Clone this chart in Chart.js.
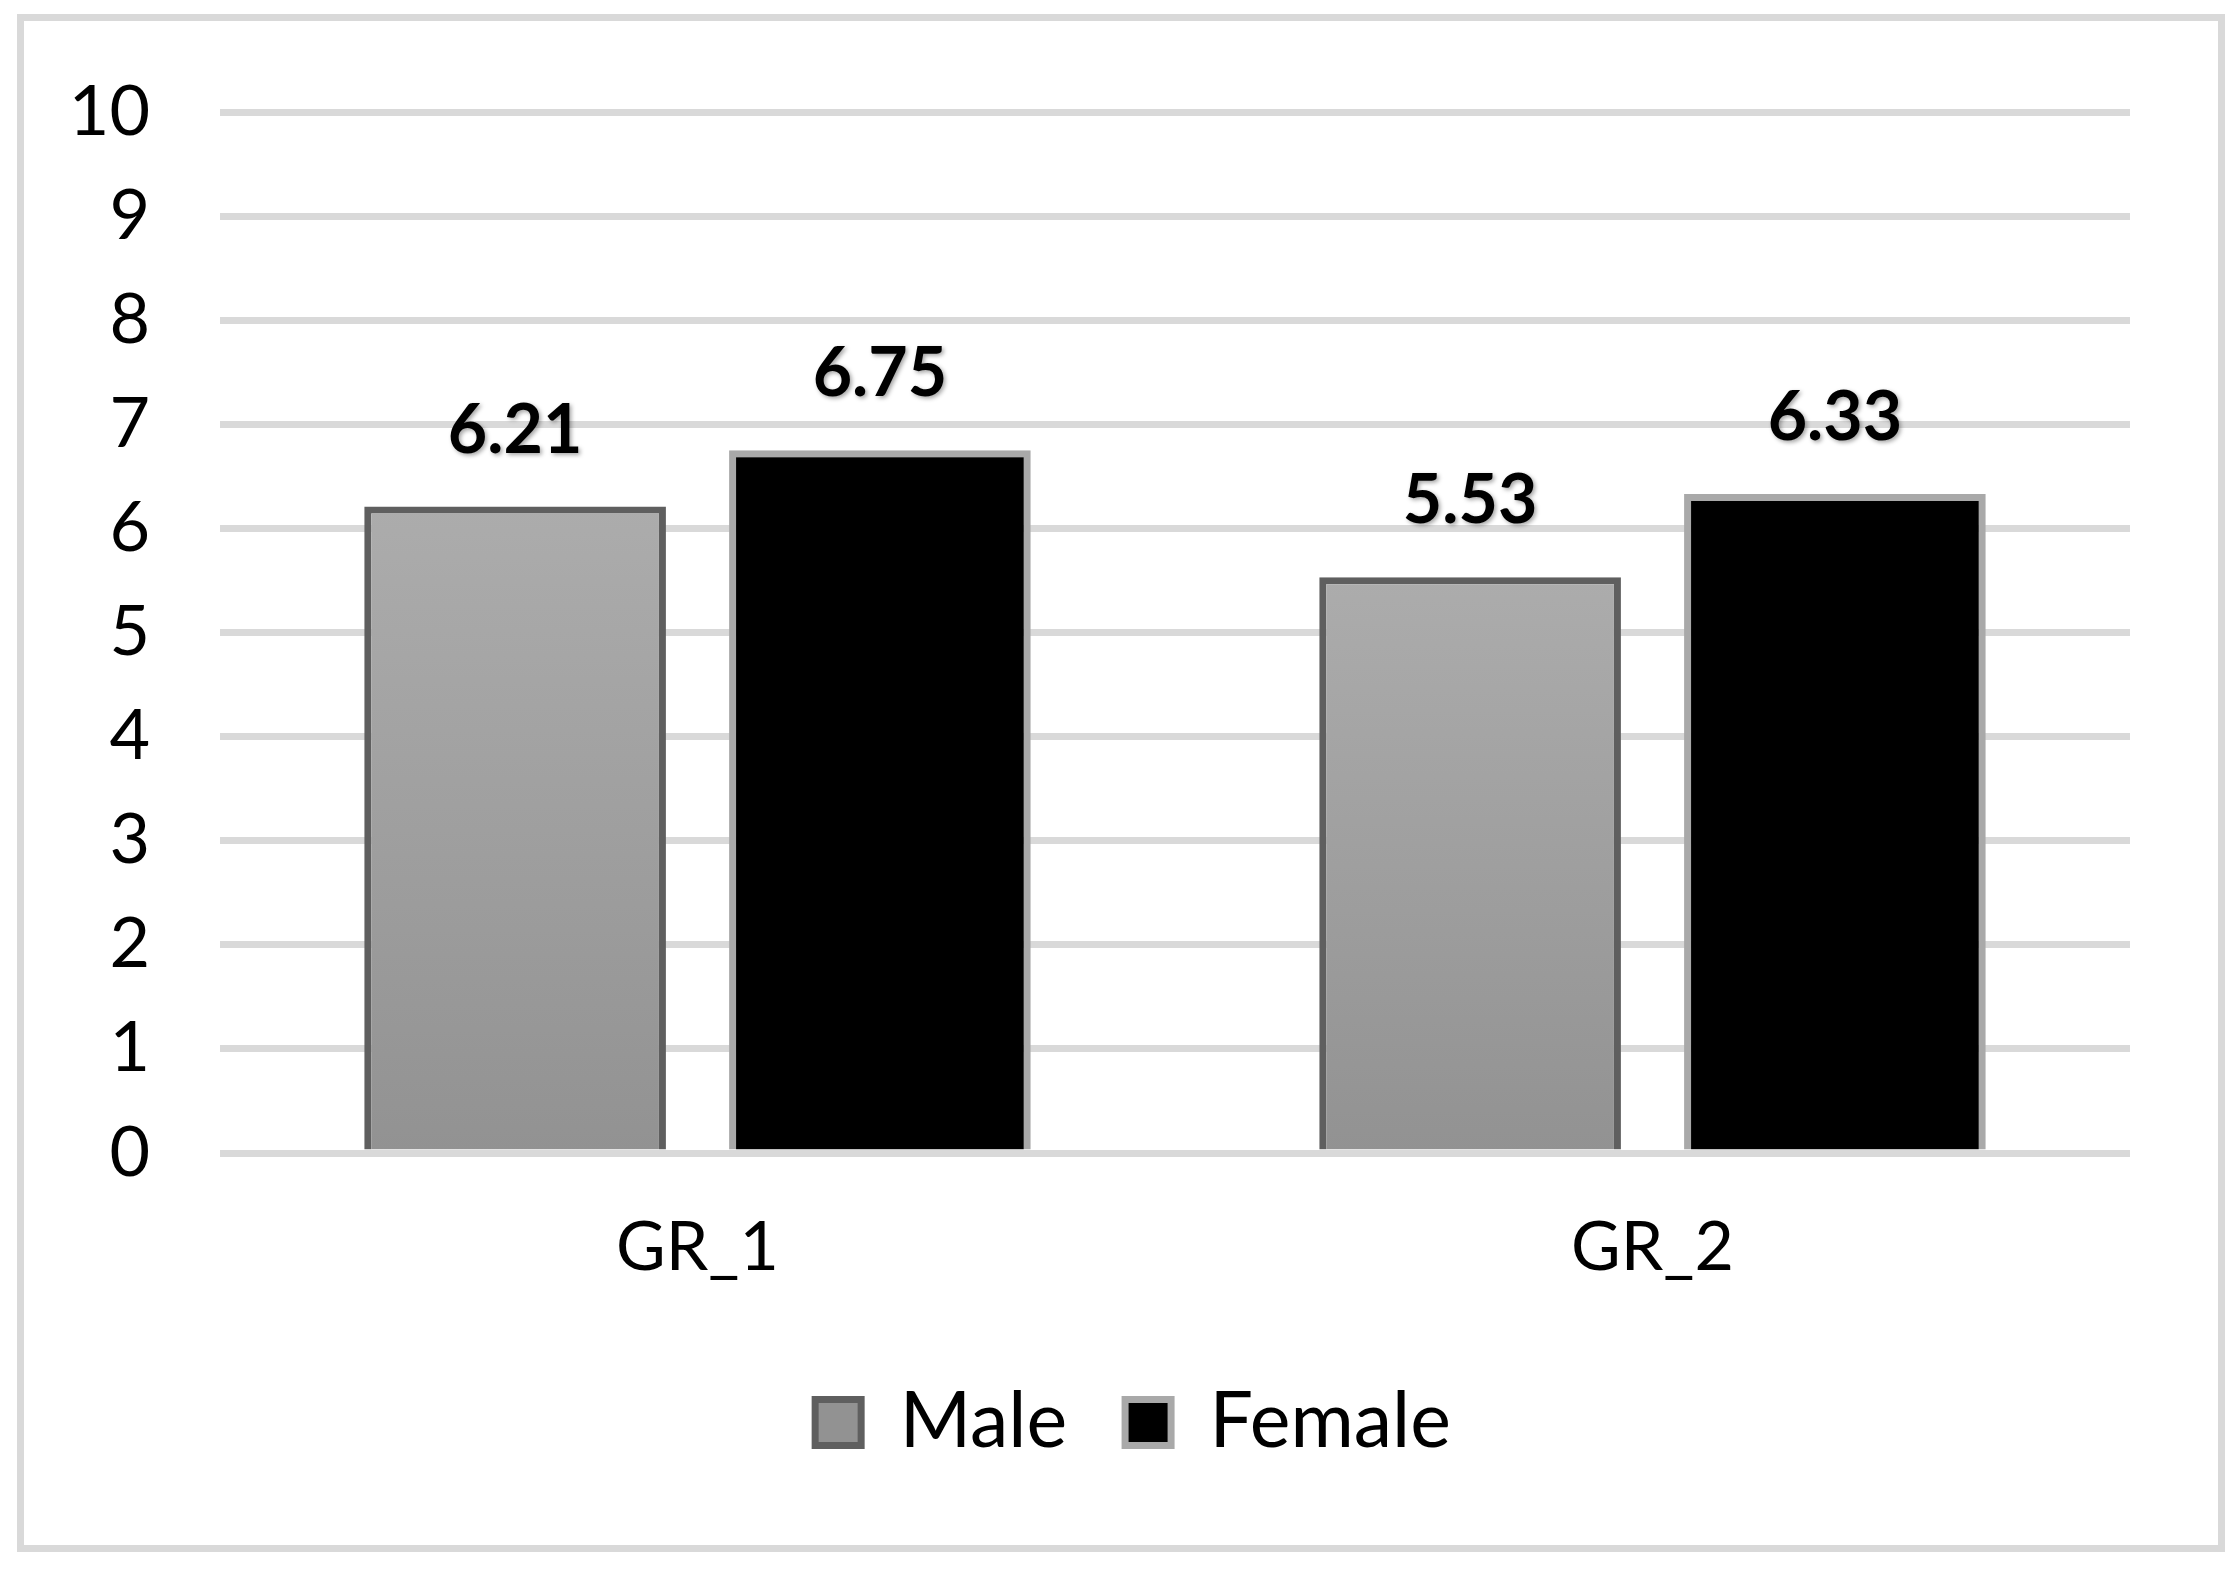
<!DOCTYPE html>
<html>
<head>
<meta charset="utf-8">
<script src="https://cdn.jsdelivr.net/npm/chart.js@4.4.0/dist/chart.umd.min.js"></script>
<style>
  html, body { margin: 0; padding: 0; background: #fff; overflow: hidden; }
  #wrap { width: 2240px; height: 1571px; position: relative; }
</style>
</head>
<body>
<div id="wrap"><canvas id="myChart"></canvas></div>
<script>
var groups = ['GR_1', 'GR_2'];
var maleValues = [6.21, 5.53];
var femaleValues = [6.75, 6.33];
var yTicks = [0, 1, 2, 3, 4, 5, 6, 7, 8, 9, 10];

// per-bar vertical gradient for the grey bars
function maleFill(context) {
    var chart = context.chart;
    if (!chart.chartArea || context.dataIndex === undefined) {
        return '#a0a0a0';
    }
    var y = chart.scales.y;
    var top = y.getPixelForValue(maleValues[context.dataIndex]);
    var bottom = y.getPixelForValue(0);
    var g = chart.ctx.createLinearGradient(0, top, 0, bottom);
    g.addColorStop(0, '#acacac');
    g.addColorStop(1, '#929292');
    return g;
}

var framePlugin = {
    id: 'frame',
    beforeDraw: function (chart) {
        var c = chart.ctx;
        c.save();
        c.fillStyle = '#ffffff';
        c.fillRect(0, 0, chart.width, chart.height);
        c.strokeStyle = '#d9d9d9';
        c.lineWidth = 7;
        c.strokeRect(20.5, 17.5, 2201, 1531);
        c.restore();
    }
};

// legend sits centred on the whole picture, not on the plot
var legendShift = {
    id: 'legendShift',
    afterLayout: function (chart) {
        chart.legend.left += 68;
        chart.legend.right += 68;
    }
};

var valueLabels = {
    id: 'valueLabels',
    afterDatasetsDraw: function (chart) {
        var c = chart.ctx;
        c.save();
        c.font = 'bold 68px Lato';
        c.fillStyle = '#000';
        c.textAlign = 'center';
        c.textBaseline = 'alphabetic';
        c.shadowColor = 'rgba(0,0,0,0.35)';
        c.shadowBlur = 4;
        c.shadowOffsetX = 2;
        c.shadowOffsetY = 2;
        chart.data.datasets.forEach(function (ds, i) {
            chart.getDatasetMeta(i).data.forEach(function (bar, j) {
                c.fillText(ds.data[j].toFixed(2), bar.x, bar.y - 54);
            });
        });
        c.restore();
    }
};

var ctx = document.getElementById('myChart').getContext('2d');
var chart = new Chart(ctx, {
    type: 'bar',
    data: {
        labels: groups,
        datasets: [{
            label: 'Male',
            data: maleValues,
            backgroundColor: maleFill,
            borderColor: '#5f5f5f',
            borderWidth: 7
        }, {
            label: 'Female',
            data: femaleValues,
            backgroundColor: '#000000',
            borderColor: '#a9a9a9',
            borderWidth: 7
        }]
    },
    options: {
        responsive: true,
        maintainAspectRatio: false,
        animation: false,
        categoryPercentage: 0.764,
        barPercentage: 0.827,
        layout: { padding: { left: 0, right: 110, top: 109, bottom: 100 } },
        scales: {
            x: {
                grid: { display: false },
                border: { display: false },
                ticks: { color: '#000', font: { family: 'Lato', size: 68 }, padding: 46 },
                afterFit: function (scale) { scale.height = 173; }
            },
            y: {
                min: 0,
                max: 10,
                afterBuildTicks: function (scale) {
                    scale.ticks = yTicks.map(function (v) { return { value: v }; });
                },
                grid: { color: '#d9d9d9', lineWidth: 7, drawTicks: false },
                border: { display: false },
                ticks: { color: '#000', font: { family: 'Lato', size: 70 }, padding: 70 },
                afterFit: function (scale) { scale.width = 220; }
            }
        },
        plugins: {
            legend: {
                position: 'bottom',
                labels: {
                    color: '#000',
                    font: { family: 'Lato', size: 77 },
                    boxWidth: 46,
                    boxHeight: 46,
                    padding: 58
                }
            },
            tooltip: { enabled: false }
        }
    },
    plugins: [framePlugin, legendShift, valueLabels]
});
</script>
</body>
</html>
